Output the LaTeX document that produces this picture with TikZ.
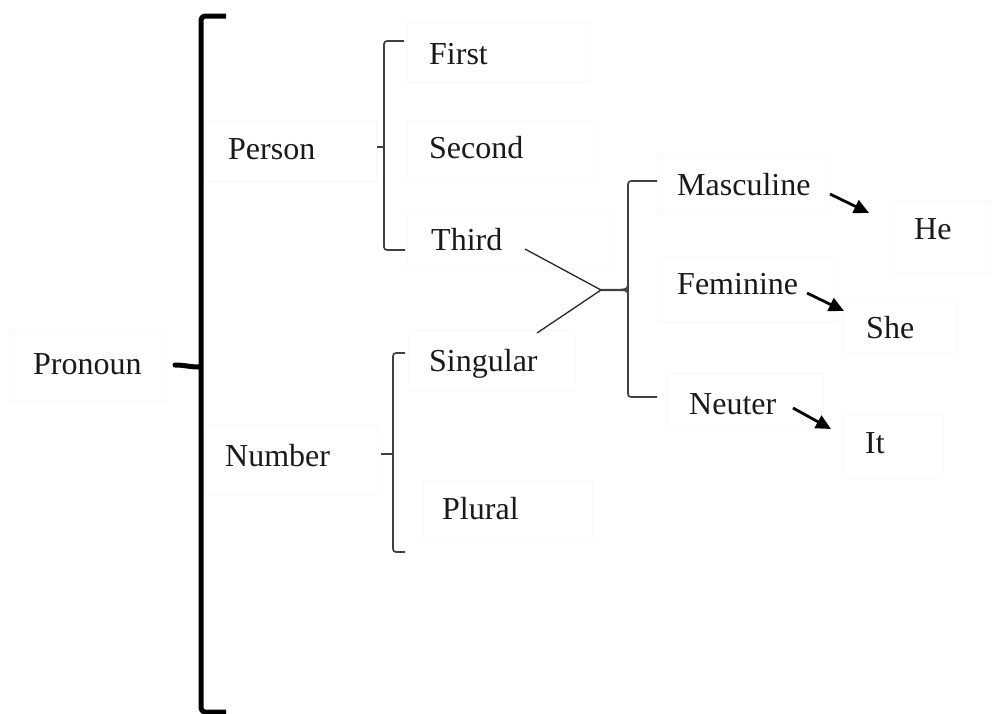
\documentclass[tikz,border=0pt]{standalone}
\usepackage{fontspec}
\setmainfont{Liberation Serif}
\usetikzlibrary{arrows.meta}
\begin{document}
\begin{tikzpicture}[x=1pt,y=-1pt,
  word/.style={anchor=base west,inner sep=0pt,text=black!90,
    font=\fontsize{32}{37}\selectfont},
  frame/.style={draw=black!2.5,line width=0.8pt},
  bigbrace/.style={line width=5pt,line join=round,rounded corners=4pt},
  brace/.style={draw=black!75,line width=1.7pt,rounded corners=3pt},
  link/.style={draw=black!85,line width=1.3pt},
  pointer/.style={line width=2.8pt,-{Triangle[length=15pt,width=14pt]}}]
\useasboundingbox (0,0) rectangle (1001,713);

% faint text frames
\draw[frame] (10,331) rectangle (166,401);
\draw[frame] (205,120) rectangle (376,181);
\draw[frame] (205,425) rectangle (378,495);
\draw[frame] (407,22) rectangle (590,82);
\draw[frame] (407,120) rectangle (593,180);
\draw[frame] (407,212) rectangle (610,268);
\draw[frame] (408,330) rectangle (575,391);
\draw[frame] (423,480) rectangle (592,539);
\draw[frame] (658,155) rectangle (830,212);
\draw[frame] (893,200) rectangle (990,272);
\draw[frame] (657,257) rectangle (838,322);
\draw[frame] (843,300) rectangle (956,353);
\draw[frame] (667,373) rectangle (823,427);
\draw[frame] (843,415) rectangle (943,478);

% words
\node[word] (pronoun) at (33,374) {Pronoun};
\node[word] (person) at (228,159) {Person};
\node[word] (number) at (225,466) {Number};
\node[word] (first) at (429,64) {First};
\node[word] (second) at (429,158) {Second};
\node[word] (third) at (431,250) {Third};
\node[word] (singular) at (429,371) {Singular};
\node[word] (plural) at (442,519) {Plural};
\node[word] (masc) at (677,195) {Masculine};
\node[word] (fem) at (677,294) {Feminine};
\node[word] (neut) at (689,414) {Neuter};
\node[word] (he) at (914,239) {He};
\node[word] (she) at (866,338) {She};
\node[word] (it) at (865,453) {It};

% main brace
\draw[bigbrace] (226,16) -| (201,712) -- (226,712);
\draw[line width=5pt,line cap=round] (175,365) to[out=0,in=180] (199,367);

% person brace
\draw[brace] (404,41) -| (384,250) -- (405,250);
\draw[brace,rounded corners=0pt] (377,147) -- (384,147);

% number brace
\draw[brace] (405,353) -| (393,552) -- (405,552);
\draw[brace,rounded corners=0pt] (381,454) -- (393,454);

% gender brace
\draw[brace] (657,181) -| (628,397) -- (657,397);
\draw[brace,line width=2.4pt,rounded corners=0pt] (601,290) -- (620,290) to[out=0,in=-90] (628,286);
\draw[brace,rounded corners=0pt] (620,290) to[out=0,in=90] (628,294);

% branches joining Third and Singular
\coordinate (fork) at (601,290);
\coordinate (thirdtail) at (525,249);
\coordinate (singtail) at (537,333);
\draw[link] (thirdtail) -- (fork);
\draw[link] (singtail) -- (fork);

% pointers to the pronouns
\coordinate (m1) at (830,194);
\coordinate (m2) at (869,213);
\coordinate (f1) at (807,293);
\coordinate (f2) at (844,311);
\coordinate (n1) at (793,408);
\coordinate (n2) at (831,429);
\draw[pointer] (m1) -- (m2);
\draw[pointer] (f1) -- (f2);
\draw[pointer] (n1) -- (n2);
\end{tikzpicture}
\end{document}
